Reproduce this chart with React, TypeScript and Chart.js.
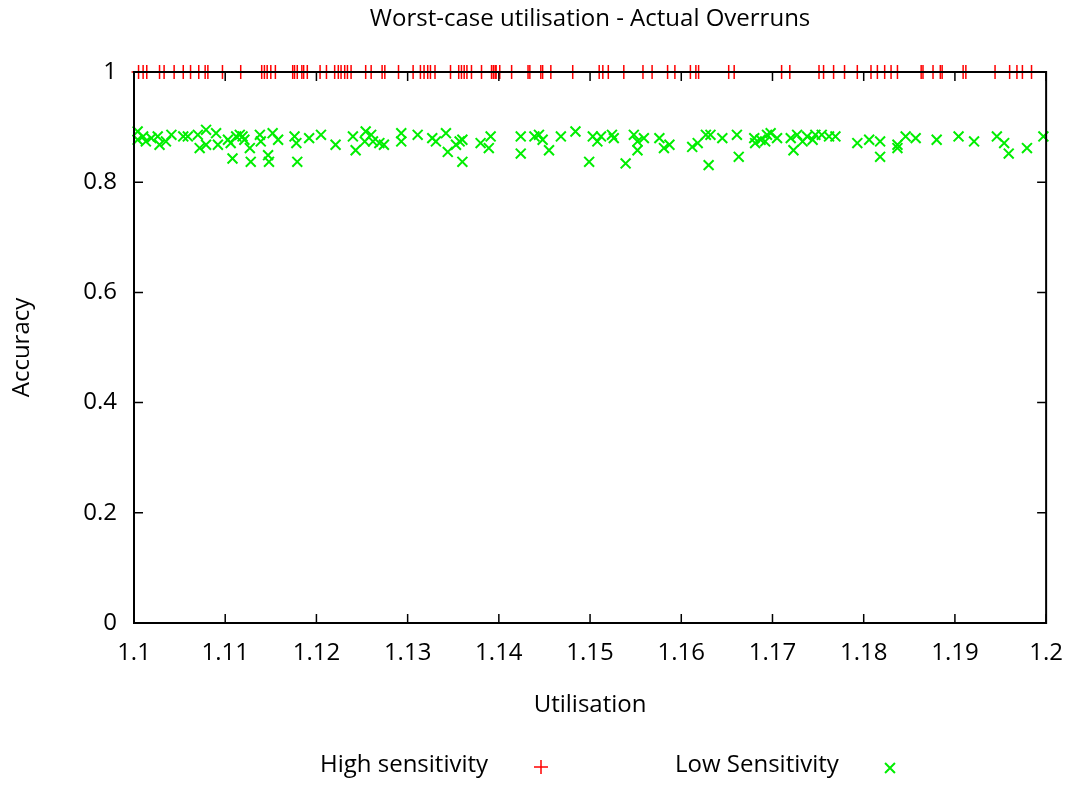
import React, { useEffect, useRef } from "react";
import { Chart, registerables } from "chart.js";

Chart.register(...registerables);

const TITLE = "Worst-case utilisation - Actual Overruns";
const X_LABEL = "Utilisation";
const Y_LABEL = "Accuracy";
const HIGH_LABEL = "High sensitivity";
const LOW_LABEL = "Low Sensitivity";

const X_TICKS = [1.1, 1.11, 1.12, 1.13, 1.14, 1.15, 1.16, 1.17, 1.18, 1.19, 1.2];
const Y_TICKS = [0, 0.2, 0.4, 0.6, 0.8, 1];

const HIGH_X = [
  1.1005, 1.101, 1.1014, 1.1028, 1.1033, 1.1044, 1.1054, 1.1062, 1.1071, 1.1078,
  1.1081, 1.1097, 1.1117, 1.114, 1.1143, 1.1146, 1.115, 1.1155, 1.1174, 1.1176,
  1.1179, 1.1184, 1.1186, 1.119, 1.1204, 1.1211, 1.122, 1.1224, 1.1227, 1.1231,
  1.1234, 1.1238, 1.1254, 1.126, 1.1272, 1.1275, 1.129, 1.1306, 1.1314, 1.1318,
  1.1322, 1.1325, 1.133, 1.1347, 1.1356, 1.1359, 1.1362, 1.1365, 1.137, 1.1381,
  1.1392, 1.1394, 1.1396, 1.1397, 1.1401, 1.1414, 1.1432, 1.1434, 1.1446, 1.1448,
  1.1457, 1.1481, 1.151, 1.1514, 1.152, 1.1537, 1.1558, 1.1568, 1.1585, 1.1593,
  1.161, 1.1616, 1.1619, 1.1652, 1.1658, 1.171, 1.1719, 1.1751, 1.1756, 1.1767,
  1.1779, 1.1793, 1.1808, 1.1815, 1.1823, 1.183, 1.1837, 1.1863, 1.1865, 1.1876,
  1.1884, 1.1886, 1.1909, 1.1912, 1.1944, 1.196, 1.1968, 1.1974, 1.1984,
];
const HIGH_Y = [
  1, 1, 1, 1, 1, 1, 1, 1, 1, 1,
  1, 1, 1, 1, 1, 1, 1, 1, 1, 1,
  1, 1, 1, 1, 1, 1, 1, 1, 1, 1,
  1, 1, 1, 1, 1, 1, 1, 1, 1, 1,
  1, 1, 1, 1, 1, 1, 1, 1, 1, 1,
  1, 1, 1, 1, 1, 1, 1, 1, 1, 1,
  1, 1, 1, 1, 1, 1, 1, 1, 1, 1,
  1, 1, 1, 1, 1, 1, 1, 1, 1, 1,
  1, 1, 1, 1, 1, 1, 1, 1, 1, 1,
  1, 1, 1, 1, 1, 1, 1, 1, 1,
];

const LOW_X = [
  1.1004, 1.1004, 1.101, 1.1013, 1.1019, 1.1026, 1.1028, 1.1035, 1.1041, 1.1054,
  1.1059, 1.107, 1.1072, 1.1079, 1.1079, 1.109, 1.1092, 1.1103, 1.1106, 1.1108,
  1.1112, 1.1116, 1.1119, 1.1121, 1.1127, 1.1128, 1.1138, 1.1139, 1.1147, 1.1148,
  1.1152, 1.1158, 1.1176, 1.1178, 1.1179, 1.1192, 1.1205, 1.1221, 1.124, 1.1243,
  1.1254, 1.1253, 1.126, 1.1262, 1.1269, 1.1274, 1.1293, 1.1293, 1.1311, 1.1327,
  1.1331, 1.1342, 1.1344, 1.1353, 1.1357, 1.136, 1.136, 1.138, 1.1389, 1.1391,
  1.1424, 1.1424, 1.1439, 1.1444, 1.1448, 1.1455, 1.1468, 1.1484, 1.1499,
  1.1503, 1.1508, 1.1512, 1.1524, 1.1526, 1.1539, 1.1548, 1.1552, 1.1552, 1.1559,
  1.1576, 1.1581, 1.1587, 1.1612, 1.1618, 1.1627, 1.1632, 1.163, 1.1645, 1.1661,
  1.1663, 1.168, 1.1681, 1.1687, 1.1692, 1.1694, 1.1698, 1.1705, 1.172, 1.1723,
  1.1727, 1.1733, 1.1738, 1.1744, 1.1747,
  1.1754, 1.1762, 1.1769, 1.1793, 1.1806, 1.1818, 1.1818, 1.1837, 1.1837, 1.1846,
  1.1857, 1.188, 1.1904, 1.1921, 1.1946, 1.1954, 1.1959, 1.1979, 1.1997,
];
const LOW_Y = [
  0.892, 0.877, 0.883, 0.874, 0.88, 0.883, 0.868, 0.874, 0.886, 0.883,
  0.883, 0.886, 0.862, 0.895, 0.868, 0.889, 0.868, 0.877, 0.871, 0.843,
  0.883, 0.886, 0.883, 0.877, 0.862, 0.837, 0.886, 0.874, 0.849, 0.837,
  0.889, 0.877, 0.883, 0.871, 0.837, 0.88, 0.886, 0.868, 0.883, 0.858,
  0.892, 0.874, 0.886, 0.874, 0.871, 0.868, 0.889, 0.874, 0.886, 0.88,
  0.874, 0.889, 0.855, 0.868, 0.874, 0.877, 0.837, 0.871, 0.862, 0.883,
  0.883, 0.852, 0.883, 0.886, 0.877, 0.858, 0.883, 0.892, 0.837,
  0.883, 0.874, 0.883, 0.886, 0.88, 0.834, 0.886, 0.874, 0.858, 0.88,
  0.88, 0.862, 0.868, 0.864, 0.871, 0.886, 0.886, 0.831, 0.88, 0.886,
  0.846, 0.88, 0.871, 0.877, 0.874, 0.886, 0.889, 0.88, 0.88, 0.858,
  0.886, 0.874, 0.883, 0.877, 0.886,
  0.886, 0.883, 0.883, 0.871, 0.877, 0.874, 0.846, 0.868, 0.862, 0.883,
  0.88, 0.877, 0.883, 0.874, 0.883, 0.871, 0.852, 0.862, 0.883,
];

const FONT_FAMILY = "'Open Sans', sans-serif";
const FONT_SIZE = 24;
const RED = "#ff0000";
const GREEN = "#00ee00";

const toPoints = (xs: number[], ys: number[]) => xs.map((x, i) => ({ x, y: ys[i] }));

const fmtTick = (v: number) => String(Number(v.toFixed(2)));

const framePlugin = {
  id: "gnuplotFrame",
  afterDatasetsDraw(chart: any) {
    const { ctx, chartArea, scales } = chart;
    const { left, right, top, bottom } = chartArea;
    const tl = 9;
    ctx.save();
    ctx.strokeStyle = "#000";
    ctx.lineWidth = 1.5;
    ctx.beginPath();
    for (const v of X_TICKS) {
      const px = scales.x.getPixelForValue(v);
      ctx.moveTo(px, bottom);
      ctx.lineTo(px, bottom - tl);
      ctx.moveTo(px, top);
      ctx.lineTo(px, top + tl);
    }
    for (const v of Y_TICKS) {
      const py = scales.y.getPixelForValue(v);
      ctx.moveTo(left, py);
      ctx.lineTo(left + tl, py);
      ctx.moveTo(right, py);
      ctx.lineTo(right - tl, py);
    }
    ctx.stroke();
    ctx.lineWidth = 2;
    ctx.strokeRect(left, top, right - left, bottom - top);
    ctx.restore();
  },
};

const titlePlugin = {
  id: "gnuplotTitle",
  afterDraw(chart: any) {
    const { ctx, chartArea } = chart;
    ctx.save();
    ctx.font = `${FONT_SIZE}px ${FONT_FAMILY}`;
    ctx.fillStyle = "#000";
    ctx.textBaseline = "middle";
    ctx.textAlign = "center";
    ctx.fillText(TITLE, (chartArea.left + chartArea.right) / 2, 19);
    ctx.restore();
  },
};

const legendPlugin = {
  id: "gnuplotLegend",
  afterDraw(chart: any) {
    const { ctx } = chart;
    ctx.save();
    ctx.font = `${FONT_SIZE}px ${FONT_FAMILY}`;
    ctx.fillStyle = "#000";
    ctx.textBaseline = "middle";
    ctx.textAlign = "left";
    const y = 765;
    ctx.fillText(chart.data.datasets[0].label, 320, y);
    ctx.fillText(chart.data.datasets[1].label, 675, y);
    const r = 7;
    ctx.lineWidth = 1.5;
    ctx.strokeStyle = RED;
    ctx.beginPath();
    ctx.moveTo(541 - r, y + 2);
    ctx.lineTo(541 + r, y + 2);
    ctx.moveTo(541, y + 2 - r);
    ctx.lineTo(541, y + 2 + r);
    ctx.stroke();
    const d = r * Math.SQRT1_2;
    ctx.strokeStyle = GREEN;
    ctx.lineWidth = 2;
    ctx.beginPath();
    ctx.moveTo(890 - d, y + 3 - d);
    ctx.lineTo(890 + d, y + 3 + d);
    ctx.moveTo(890 + d, y + 3 - d);
    ctx.lineTo(890 - d, y + 3 + d);
    ctx.stroke();
    ctx.restore();
  },
};

export default function App() {
  const canvasRef = useRef<HTMLCanvasElement | null>(null);

  useEffect(() => {
    const canvas = canvasRef.current;
    if (!canvas) return;
    const font = { family: FONT_FAMILY, size: FONT_SIZE, weight: "normal" as const };
    const chart = new Chart(canvas, {
      type: "scatter",
      data: {
        datasets: [
          {
            label: HIGH_LABEL,
            data: toPoints(HIGH_X, HIGH_Y),
            pointStyle: "cross",
            pointRadius: 7,
            pointHoverRadius: 7,
            borderColor: RED,
            backgroundColor: RED,
            pointBorderWidth: 1.5,
            clip: false,
          },
          {
            label: LOW_LABEL,
            data: toPoints(LOW_X, LOW_Y),
            pointStyle: "crossRot",
            pointRadius: 7,
            pointHoverRadius: 7,
            borderColor: GREEN,
            backgroundColor: GREEN,
            pointBorderWidth: 2,
            clip: false,
          },
        ],
      },
      options: {
        responsive: false,
        animation: false,
        events: [],
        layout: { padding: { top: 72, right: 31, bottom: 60, left: 0 } },
        plugins: {
          legend: { display: false },
          tooltip: { enabled: false },
          title: { display: false },
        },
        scales: {
          x: {
            type: "linear",
            min: 1.1,
            max: 1.2,
            afterBuildTicks: (s: any) => {
              s.ticks = X_TICKS.map((value) => ({ value }));
            },
            afterFit: (s: any) => {
              s.height = 102;
            },
            grid: { display: false, drawTicks: false },
            border: { display: false },
            ticks: {
              color: "#000",
              font,
              padding: 16,
              maxRotation: 0,
              autoSkip: false,
              callback: (v: any) => fmtTick(Number(v)),
            },
            title: {
              display: true,
              text: X_LABEL,
              color: "#000",
              font,
              padding: { top: 0, bottom: 5 },
            },
          },
          y: {
            type: "linear",
            min: 0,
            max: 1,
            afterBuildTicks: (s: any) => {
              s.ticks = Y_TICKS.map((value) => ({ value }));
            },
            afterFit: (s: any) => {
              s.width = 134;
            },
            grid: { display: false, drawTicks: false },
            border: { display: false },
            ticks: {
              color: "#000",
              font,
              padding: 17,
              autoSkip: false,
              callback: (v: any) => fmtTick(Number(v)),
            },
            title: {
              display: true,
              text: Y_LABEL,
              color: "#000",
              font,
              padding: { top: 8, bottom: 0 },
            },
          },
        },
      },
      plugins: [framePlugin, titlePlugin, legendPlugin],
    });
    return () => chart.destroy();
  }, []);

  return (
    <div style={{ position: "absolute", left: 0, top: 0, width: 1079, height: 785, background: "#fff" }}>
      <canvas ref={canvasRef} width={1079} height={785} style={{ display: "block" }} />
    </div>
  );
}
